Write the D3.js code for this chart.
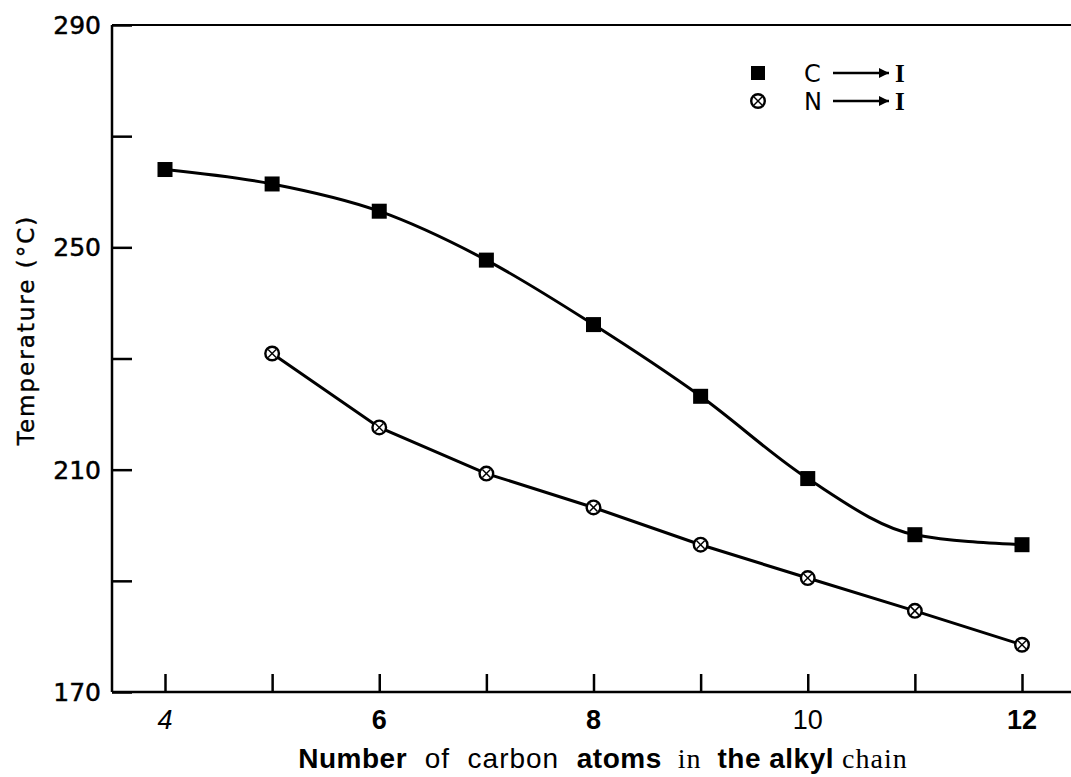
<!DOCTYPE html>
<html>
<head>
<meta charset="utf-8">
<script src="https://cdn.jsdelivr.net/npm/d3@7"></script>
<style>
  body { margin: 0; background: #fff; }
  svg { display: block; }
</style>
</head>
<body>
<div id="chart"></div>
<script>
// carbon atoms in the alkyl chain
var carbonsCI = [4, 5, 6, 7, 8, 9, 10, 11, 12];
var tempCI = [264, 261.4, 256.5, 247.7, 236.1, 223.2, 208.4, 198.3, 196.5];
var carbonsNI = [5, 6, 7, 8, 9, 10, 11, 12];
var tempNI = [230.9, 217.6, 209.3, 203.2, 196.5, 190.5, 184.6, 178.5];

var xTickLabels = [4, 6, 8, 10, 12];
var yTickLabels = [170, 210, 250, 290];

var width = 1071, height = 777;

var svg = d3.select("#chart")
    .append("svg")
    .attr("width", width)
    .attr("height", height);

var x = d3.scaleLinear().domain([4, 12]).range([165, 1022]);
var y = d3.scaleLinear().domain([170, 290]).range([692, 25]);

var ink = "#000";

// frame: left axis, bottom axis, top line
svg.append("line").attr("x1", 112).attr("x2", 112).attr("y1", 25).attr("y2", 692)
    .attr("stroke", ink).attr("stroke-width", 2.5);
svg.append("line").attr("x1", 112).attr("x2", 1071).attr("y1", 692).attr("y2", 692)
    .attr("stroke", ink).attr("stroke-width", 2.5);
svg.append("line").attr("x1", 112).attr("x2", 1071).attr("y1", 25).attr("y2", 25)
    .attr("stroke", ink).attr("stroke-width", 2);

// y ticks (inward)
var yAxis = svg.append("g")
    .attr("transform", "translate(112,0)")
    .call(d3.axisRight(y).tickValues(d3.range(170, 291, 20)).tickSize(20).tickFormat(""));
yAxis.select(".domain").remove();
yAxis.selectAll("line").attr("stroke-width", 2.5);

svg.selectAll(".ylab")
    .data(yTickLabels)
    .enter()
    .append("text")
    .attr("x", 101)
    .attr("y", function (d) { return y(d) + 9; })
    .attr("text-anchor", "end")
    .style("font-family", "'DejaVu Sans', sans-serif")
    .style("font-size", "25px")
    .style("stroke", ink)
    .style("stroke-width", "0.5px")
    .text(function (d) { return d; });

// x ticks (inward)
var xAxis = svg.append("g")
    .attr("transform", "translate(0,692)")
    .call(d3.axisTop(x).tickValues(d3.range(4, 13)).tickSize(18).tickFormat(""));
xAxis.select(".domain").remove();
xAxis.selectAll("line").attr("stroke-width", 2.5);

var xStyles = { 4: ["italic", "normal"], 6: ["normal", "bold"], 8: ["normal", "bold"], 10: ["normal", "normal"], 12: ["normal", "bold"] };
svg.selectAll(".xlab")
    .data(xTickLabels)
    .enter()
    .append("text")
    .attr("x", function (d) { return x(d); })
    .attr("y", 729)
    .attr("text-anchor", "middle")
    .style("font-family", "'Liberation Sans', Arial, sans-serif")
    .style("font-size", "27px")
    .style("font-style", function (d) { return xStyles[d][0]; })
    .style("font-weight", function (d) { return xStyles[d][1]; })
    .text(function (d) { return d; });

// axis titles
svg.append("text")
    .attr("transform", "translate(34,330) rotate(-90)")
    .attr("text-anchor", "middle")
    .style("font-family", "'DejaVu Sans', sans-serif")
    .style("font-size", "23px")
    .style("letter-spacing", "2px")
    .style("stroke", ink)
    .style("stroke-width", "0.4px")
    .text("Temperature (°C)");

var xt = svg.append("text")
    .attr("x", 603)
    .attr("y", 768)
    .attr("text-anchor", "middle")
    .style("font-size", "28px")
    .attr("xml:space", "preserve");
var parts = [
    ["Number", "'Liberation Sans', sans-serif", "bold"],
    ["  of  carbon  ", "'Liberation Sans', sans-serif", "normal"],
    ["atoms", "'Liberation Sans', sans-serif", "bold"],
    ["  in  ", "'Liberation Serif', serif", "normal"],
    ["the alkyl", "'Liberation Sans', sans-serif", "bold"],
    [" chain", "'Liberation Serif', serif", "normal"]
];
parts.forEach(function (p) {
    xt.append("tspan").style("font-family", p[1]).style("font-weight", p[2])
        .style("letter-spacing", p[2] === "bold" ? "0.5px" : "1px").text(p[0]);
});

// lines
var ci = carbonsCI.map(function (c, i) { return { c: c, t: tempCI[i] }; });
var ni = carbonsNI.map(function (c, i) { return { c: c, t: tempNI[i] }; });

var smooth = d3.line().x(function (d) { return x(d.c); }).y(function (d) { return y(d.t); }).curve(d3.curveMonotoneX);
var straight = d3.line().x(function (d) { return x(d.c); }).y(function (d) { return y(d.t); });

svg.append("path").attr("d", smooth(ci)).attr("fill", "none").attr("stroke", ink).attr("stroke-width", 3);
svg.append("path").attr("d", straight(ni)).attr("fill", "none").attr("stroke", ink).attr("stroke-width", 3);

// markers
svg.selectAll(".sq")
    .data(ci)
    .enter()
    .append("rect")
    .attr("x", function (d) { return x(d.c) - 7.5; })
    .attr("y", function (d) { return y(d.t) - 7.5; })
    .attr("width", 15)
    .attr("height", 15)
    .attr("fill", ink);

function crossCircle(g, cx, cy) {
    g.append("circle").attr("cx", cx).attr("cy", cy).attr("r", 6.8)
        .attr("fill", "#fff").attr("stroke", ink).attr("stroke-width", 2.4);
    g.append("line").attr("x1", cx - 4).attr("x2", cx + 4).attr("y1", cy - 4).attr("y2", cy + 4)
        .attr("stroke", ink).attr("stroke-width", 1.5);
    g.append("line").attr("x1", cx - 4).attr("x2", cx + 4).attr("y1", cy + 4).attr("y2", cy - 4)
        .attr("stroke", ink).attr("stroke-width", 1.5);
}
ni.forEach(function (d) { crossCircle(svg, x(d.c), y(d.t)); });

// legend
var lg = svg.append("g");
lg.append("rect").attr("x", 751).attr("y", 66).attr("width", 14).attr("height", 14).attr("fill", ink);
crossCircle(lg, 758, 101);
svg.append("defs").append("marker")
    .attr("id", "arr").attr("viewBox", "0 0 10 10").attr("refX", 10).attr("refY", 5)
    .attr("markerWidth", 6).attr("markerHeight", 4).attr("orient", "auto")
    .append("path").attr("d", "M0,0 L10,5 L0,10 z").attr("fill", ink);
[["C", 73], ["N", 101]].forEach(function (r) {
    lg.append("text").attr("x", 804).attr("y", r[1] + 9)
        .style("font-family", "'DejaVu Sans', sans-serif").style("font-size", "24px").text(r[0]);
    lg.append("line").attr("x1", 833).attr("x2", 889).attr("y1", r[1]).attr("y2", r[1])
        .attr("stroke", ink).attr("stroke-width", 2.5).attr("marker-end", "url(#arr)");
    lg.append("text").attr("x", 895).attr("y", r[1] + 9)
        .style("font-family", "'Liberation Serif', serif").style("font-size", "25px").style("font-weight", "bold").text("I");
});
</script>
</body>
</html>
